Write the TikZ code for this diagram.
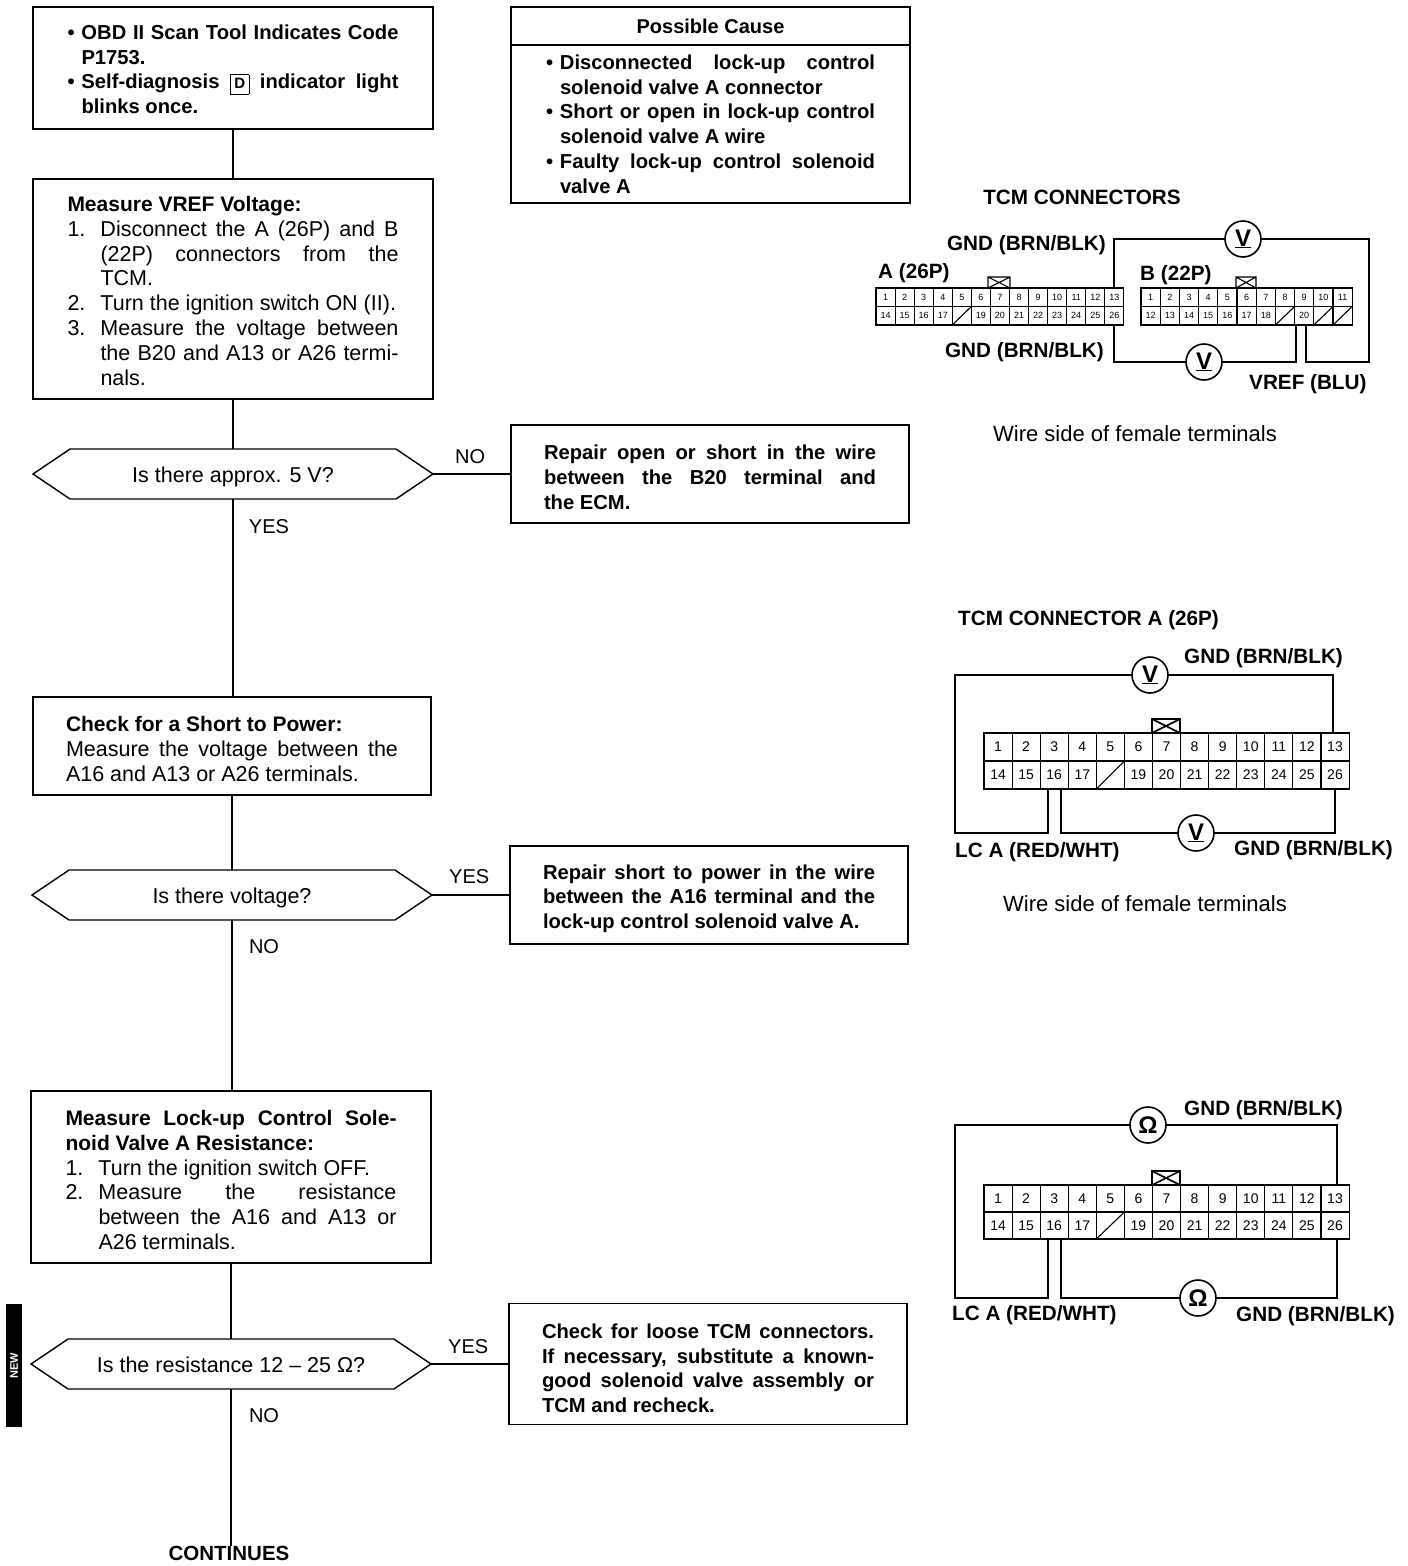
\documentclass[tikz,border=0pt]{standalone}
\usepackage{fontspec}
\setmainfont{Liberation Sans}
\usetikzlibrary{positioning, shapes.symbols}

\newcommand{\numitem}[2]{\par\hangindent=33pt\hangafter=1\noindent\hbox to 33pt{#1\hfil}#2\par}
\newcommand{\bulitem}[1]{\hangindent=14pt\hangafter=1\noindent\hbox to 14pt{\textbullet\hfil}#1\par}
\newcommand{\boxtitle}[1]{{\fontsize{21}{24.8}\selectfont\bfseries #1}}
\newcommand{\hextext}[1]{\raisebox{-8.5pt}[0pt][0pt]{#1}}
% strut that pushes the text of a box down
\newcommand{\tallfirst}[1]{\rule{0pt}{#1pt}}

% one row of upper and one of lower terminals
\newcommand{\tcmrows}[8]{%
  \foreach \n/\t [count=\i] in {#6} {
    \node[tcell, minimum width=#4pt, minimum height=#5pt, font=#8] (#1\n) at ({#2+(\i-0.5)*#4}, {#3+0.5*#5}) {\t};
  }
  \foreach \n/\t [count=\i] in {#7} {
    \node[tcell, minimum width=#4pt, minimum height=#5pt, font=#8] (#1\n) at ({#2+(\i-0.5)*#4}, {#3+1.5*#5}) {\t};
  }
}

\tikzset{
  flowbox/.style={draw, line width=1.4pt, text width=331pt, align=justify, inner xsep=34.5pt, inner ysep=0pt, outer sep=0pt,
                  font=\fontsize{21.5}{24.8}\selectfont},
  boldbox/.style={flowbox, font=\fontsize{20.2}{24.8}\selectfont\bfseries},
  repairbox/.style={boldbox, text width=332pt, inner xsep=33pt},
  hexbox/.style={draw, line width=1.4pt, signal, signal to=west and east, signal pointer angle=68, minimum width=400pt,
                 minimum height=50pt, inner sep=0pt, outer sep=0pt, font=\fontsize{21.5}{24.8}\selectfont},
  flowline/.style={line width=1.1pt},
  wire/.style={line width=2.2pt},
  tcell/.style={draw, line width=1.1pt, inner sep=0pt, outer sep=0pt, text=black},
  meter/.style={draw, circle, line width=1.6pt, minimum size=36pt, inner sep=0pt, outer sep=0pt, fill=white,
                font=\fontsize{24}{24}\selectfont\bfseries},
  flowlabel/.style={inner sep=0pt, font=\fontsize{20}{24}\selectfont},
  wirelabel/.style={inner sep=0pt, yshift=-2pt, font=\fontsize{20.7}{24}\selectfont\bfseries},
  plainlabel/.style={inner sep=0pt, font=\fontsize{22}{24}\selectfont}
}

\begin{document}
\begin{tikzpicture}[x=1pt, y=-1pt]
\useasboundingbox (0,0) rectangle (1408,1566);

% left column
\node[boldbox, minimum height=122pt] (obd) at (233,68) {%
  \bulitem{\tallfirst{17}OBD II Scan Tool Indicates Code\linebreak P1753.}
  \bulitem{Self-diagnosis \framebox[19pt][c]{\fontsize{15}{15}\selectfont\rule[-2pt]{0pt}{13pt}D} indicator light\linebreak blinks once.}};
\node[flowbox, minimum height=220pt, below=50pt of obd] (vref) {%
  \tallfirst{19}\boxtitle{Measure VREF Voltage:}
  \numitem{1.}{Disconnect the A (26P) and B\linebreak (22P) connectors from the\linebreak TCM.}
  \numitem{2.}{Turn the ignition switch ON (II).}
  \numitem{3.}{Measure the voltage between\linebreak the B20 and A13 or A26 termi-\linebreak nals.}};
\node[hexbox, below=50pt of vref] (ask5v) {\hextext{Is there approx. 5 V?}};
\node[flowbox, minimum height=98pt, text width=332pt, inner xsep=33pt, below=198pt of ask5v, xshift=-1pt] (short) {%
  \tallfirst{21}\boxtitle{Check for a Short to Power:}\newline Measure the voltage between the\linebreak A16 and A13 or A26 terminals.};
\node[hexbox, below=75pt of short] (askv) {\hextext{Is there voltage?}};
\node[flowbox, minimum height=172pt, below=171pt of askv, xshift=-1pt] (res) {%
  \tallfirst{21}\boxtitle{Measure Lock-up Control Sole-\linebreak noid Valve A Resistance:}
  \numitem{1.}{Turn the ignition switch OFF.}
  \numitem{2.}{Measure the resistance\linebreak between the A16 and A13 or\linebreak A26 terminals.}};
\node[hexbox, below=76pt of res] (askr) {\hextext{Is the resistance 12 -- 25 Ω?}};
\node[inner sep=0pt, font=\fontsize{20.5}{24}\selectfont\bfseries, below=157pt of askr, xshift=-2pt] (cont) {CONTINUES};

% right column
\node[draw, line width=1.4pt, minimum width=399pt, minimum height=38pt, inner sep=0pt, outer sep=0pt,
      font=\fontsize{20}{24}\selectfont\bfseries] (cause) at (710.5,26) {Possible Cause};
\node[boldbox, minimum height=158pt, text width=329pt, inner xsep=35pt, below=0pt of cause] (causes) {%
  \bulitem{Disconnected lock-up control\linebreak solenoid valve A connector}
  \bulitem{Short or open in lock-up control\linebreak solenoid valve A wire}
  \bulitem{Faulty lock-up control solenoid\linebreak valve A}};
\node[repairbox, minimum height=98pt, right=78pt of ask5v] (rep1) {%
  \tallfirst{21}Repair open or short in the wire\linebreak between the B20 terminal and\linebreak the ECM.};
\node[repairbox, minimum height=98pt, right=78pt of askv] (rep2) {%
  \tallfirst{22}Repair short to power in the wire\linebreak between the A16 terminal and the\linebreak lock-up control solenoid valve A.};
\node[repairbox, minimum height=121pt, right=78pt of askr] (loose) {%
  \tallfirst{23}Check for loose TCM connectors.\linebreak If necessary, substitute a known-\linebreak good solenoid valve assembly or\linebreak TCM and recheck.};

\draw[flowline] (obd) -- (vref);
\draw[flowline] (vref) -- (ask5v);
\draw[flowline] (ask5v) -- (ask5v |- short.north);
\draw[flowline] (ask5v.east) -- (rep1);
\draw[flowline] (short) -- (askv);
\draw[flowline] (askv) -- (askv |- res.north);
\draw[flowline] (askv.east) -- (rep2);
\draw[flowline] (res) -- (askr);
\draw[flowline] (askr) -- (askr |- cont.north);
\draw[flowline] (askr.east) -- (loose);

\node[flowlabel, right=22pt of ask5v.east, yshift=17pt] (no1) {NO};
\node[flowlabel, below=20pt of ask5v, xshift=36pt] (yes1) {YES};
\node[flowlabel, right=17pt of askv.east, yshift=18pt] (yes2) {YES};
\node[flowlabel, below=19pt of askv, xshift=32pt] (no2) {NO};
\node[flowlabel, right=17pt of askr.east, yshift=17pt] (yes3) {YES};
\node[flowlabel, below=19pt of askr, xshift=33pt] (no3) {NO};

% side tab
\node[fill=black, minimum width=16pt, minimum height=123pt, inner sep=0pt] (tab) at (14,1365.5) {};
\node[text=white, rotate=90, inner sep=0pt, font=\fontsize{11}{11}\selectfont\bfseries] (tabtext) at (tab) {NEW};

% connectors A and B
\node[wirelabel] (title1) at (1082,195) {TCM CONNECTORS};
\tcmrows{a}{876}{288}{19.07}{18.5}{1,2,3,4,5,6,7,8,9,10,11,12,13}{14,15,16,17,18/{},19,20,21,22,23,24,25,26}{\fontsize{9}{9}\selectfont}
\tcmrows{b}{1141}{288}{19.2}{18.5}{1,2,3,4,5,6,7,8,9,10,11}{12,13,14,15,16,17,18,19/{},20,21/{},22/{}}{\fontsize{9}{9}\selectfont}
\draw[line width=1.1pt] (a18.south west) -- (a18.north east);
\foreach \n in {19,21,22} \draw[line width=1.1pt] (b\n.south west) -- (b\n.north east);
\draw[line width=1.1pt] (988,288) rectangle (1010,277) (988,277) -- (1010,288) (988,288) -- (1010,277);
\draw[line width=1.1pt] (1236,288) rectangle (1256,277) (1236,277) -- (1256,288) (1236,288) -- (1256,277);
\node[meter] (v1) at (1243,239) {\underline{V}};
\node[meter] (v2) at (1204,362) {\underline{V}};
\draw[wire] (a13.north) |- (v1) -- (1369,239) |- ([xshift=2pt]b20.south |- v2) -- ([xshift=2pt]b20.south);
\draw[wire] (a26.south) |- (v2) -- ([xshift=-8pt]b20.south |- v2) -- ([xshift=-8pt]b20.south);
\node[wirelabel, anchor=east] (gnd1) at (1106,243) {GND (BRN/BLK)};
\node[wirelabel, anchor=east] (gnd2) at (1104,350) {GND (BRN/BLK)};
\node[wirelabel, anchor=west] (conA) at (878,271) {A (26P)};
\node[wirelabel, anchor=west] (conB) at (1140,273) {B (22P)};
\node[wirelabel, anchor=west] (vrefw) at (1249,382) {VREF (BLU)};
\node[plainlabel] (wside1) at (1135,434) {Wire side of female terminals};

% connector A, voltage
\node[wirelabel, anchor=west] (title2) at (958,618) {TCM CONNECTOR A (26P)};
\tcmrows{c}{984}{733}{28.08}{28}{1,2,3,4,5,6,7,8,9,10,11,12,13}{14,15,16,17,18/{},19,20,21,22,23,24,25,26}{\fontsize{14}{14}\selectfont}
\draw[line width=1.1pt] (c18.south west) -- (c18.north east);
\draw[line width=1.6pt] (1152,733) rectangle (1180,719) (1152,719) -- (1180,733) (1152,733) -- (1180,719);
\node[meter] (v3) at (1150,675) {\underline{V}};
\node[meter] (v4) at (1196,833) {\underline{V}};
\draw[wire] ([xshift=-2pt]c13.north) |- (v3) -- (955,675) |- ([xshift=-6.5pt]c16.south |- v4) -- ([xshift=-6.5pt]c16.south);
\draw[wire] ([xshift=6.5pt]c16.south) |- (v4) -| (c26.south);
\node[wirelabel, anchor=west] (gnd3) at (1184,656) {GND (BRN/BLK)};
\node[wirelabel, anchor=west] (lc1) at (955,850) {LC A (RED/WHT)};
\node[wirelabel, anchor=west] (gnd4) at (1234,848) {GND (BRN/BLK)};
\node[plainlabel] (wside2) at (1145,904) {Wire side of female terminals};

% connector A, resistance
\tcmrows{d}{984}{1185}{28.08}{27}{1,2,3,4,5,6,7,8,9,10,11,12,13}{14,15,16,17,18/{},19,20,21,22,23,24,25,26}{\fontsize{14}{14}\selectfont}
\draw[line width=1.1pt] (d18.south west) -- (d18.north east);
\draw[line width=1.6pt] (1152,1185) rectangle (1180,1171) (1152,1171) -- (1180,1185) (1152,1185) -- (1180,1171);
\node[meter] (o1) at (1148,1125) {Ω};
\node[meter] (o2) at (1198,1298) {Ω};
\draw[wire] ([xshift=2pt]d13.north) |- (o1) -- (955,1125) |- ([xshift=-6.5pt]d16.south |- o2) -- ([xshift=-6.5pt]d16.south);
\draw[wire] ([xshift=6.5pt]d16.south) |- (o2) -| ([xshift=2pt]d26.south);
\node[wirelabel, anchor=west] (gnd5) at (1184,1108) {GND (BRN/BLK)};
\node[wirelabel, anchor=west] (lc2) at (952,1313) {LC A (RED/WHT)};
\node[wirelabel, anchor=west] (gnd6) at (1236,1314) {GND (BRN/BLK)};
\end{tikzpicture}
\end{document}
